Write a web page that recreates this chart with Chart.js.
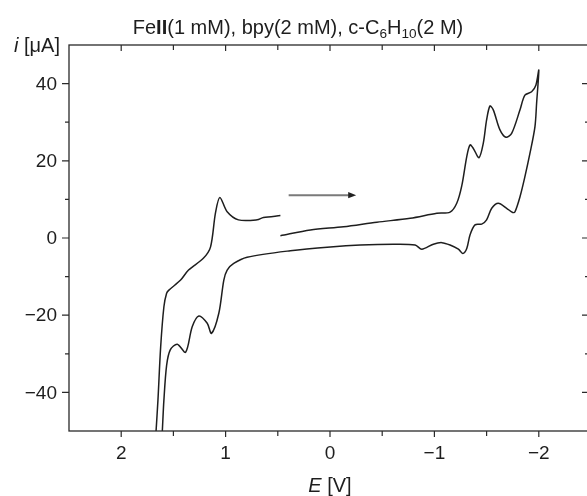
<!DOCTYPE html>
<html lang="en">
<head>
    <meta charset="UTF-8">
    <title>Cyclic voltammogram</title>
    <script src="https://cdn.jsdelivr.net/npm/chart.js"></script>
    <style>
        html, body {
            margin: 0;
            padding: 0;
            background: #ffffff;
            overflow: hidden;
        }

        #wrap {
            width: 600px;
            height: 496px;
        }
    </style>
</head>
<body>

    <div id="wrap">
        <canvas id="cvChart" width="600" height="496"></canvas>
    </div>

    <script>
        // first branch: start at 0.475 V, sweep to -2 V, back up past +1.6 V
        const sweepOutE = [0.475, 0.188, -0.13, -0.449, -0.768, -1.023, -1.15, -1.214, -1.262, -1.31,
            -1.341, -1.373, -1.427, -1.468, -1.5, -1.532, -1.564, -1.628, -1.685, -1.74,
            -1.82, -1.867, -1.931, -1.972, -2.0,
            -1.979, -1.963, -1.915, -1.867, -1.82, -1.772, -1.75, -1.692, -1.612, -1.549,
            -1.5, -1.453, -1.389, -1.341, -1.31, -1.272, -1.23, -1.15, -1.071, -0.99,
            -0.879, -0.815, -0.608, -0.29, -0.003, 0.38, 0.794, 0.922, 0.985, 1.017,
            1.065, 1.135, 1.176, 1.256, 1.32, 1.383, 1.463, 1.53, 1.565, 1.591, 1.606];
        const sweepOutI = [0.6, 2.1, 2.9, 4.1, 5.1, 6.4, 6.7, 9.0, 13.5, 21.1,
            24.1, 23.2, 20.8, 24.5, 30.6, 34.2, 33.2, 28.0, 26.1, 27.1,
            33.2, 37.0, 37.9, 39.6, 43.5,
            34.9, 28.8, 21.9, 15.9, 10.7, 6.8, 6.6, 7.7, 9.0, 7.7,
            4.7, 3.6, 3.4, 0.8, -2.7, -4.0, -2.9, -1.8, -1.2, -1.6,
            -2.9, -1.8, -1.6, -1.8, -2.3, -3.3, -5.0, -6.6, -8.3, -10.9,
            -19.5, -24.7, -22.1, -20.2, -23.0, -29.6, -27.5, -29.0, -33.0, -42.0, -50];

        // second branch: comes back from below the axis and ends near 0.5 V
        const sweepBackE = [1.666, 1.648, 1.622, 1.591, 1.565, 1.543, 1.431, 1.355, 1.211, 1.144,
            1.097, 1.055, 0.985, 0.877, 0.698, 0.638, 0.475];
        const sweepBackI = [-50, -42.0, -28.2, -17.8, -14.3, -13.5, -10.9, -8.3, -5.2, -2.3,
            6.5, 10.5, 6.8, 4.7, 4.7, 5.3, 5.8];

        // scan direction arrow (from, to) in V, at height in uA
        const arrowE = [0.396, -0.251];
        const arrowI = [11.1, 11.1];

        const xMajor = [2, 1, 0, -1, -2];
        const xMinor = [1.5, 0.5, -0.5, -1.5];
        const yMajor = [40, 20, 0, -20, -40];
        const yMinor = [30, 10, -10, -30];

        const FONT = '"Liberation Sans", Arial, sans-serif';
        const INK = '#1e1e1e';

        function toPoints(es, is) {
            return es.map((e, k) => ({ x: e, y: is[k] }));
        }

        function fmt(v) {
            return String(v).replace('-', '\u2212');
        }

        // draws a row of text pieces: {t, style, sub}
        function drawRuns(ctx, runs, x, y, size, align) {
            let total = 0;
            runs.forEach(r => {
                const s = r.sub ? size * 0.68 : size;
                ctx.font = (r.style || '') + ' ' + s + 'px ' + FONT;
                r.w = ctx.measureText(r.t).width;
                total += r.w;
            });
            let cx = align === 'center' ? x - total / 2 : (align === 'right' ? x - total : x);
            runs.forEach(r => {
                const s = r.sub ? size * 0.68 : size;
                ctx.font = (r.style || '') + ' ' + s + 'px ' + FONT;
                ctx.fillText(r.t, cx, r.sub ? y + size * 0.22 : y);
                cx += r.w;
            });
        }

        const framePlugin = {
            id: 'frame',
            afterDraw(chart) {
                const { ctx, chartArea: a, scales } = chart;
                const xs = scales.x, ys = scales.y;
                ctx.save();
                ctx.strokeStyle = '#2a2a2a';
                ctx.lineWidth = 1.3;
                ctx.strokeRect(a.left, a.top, a.right - a.left, a.bottom - a.top);

                ctx.lineWidth = 1.2;
                ctx.beginPath();
                const xt = (v, len) => {
                    const p = xs.getPixelForValue(v);
                    ctx.moveTo(p, a.bottom); ctx.lineTo(p, a.bottom + len);
                    ctx.moveTo(p, a.top); ctx.lineTo(p, a.top + len);
                };
                const yt = (v, len) => {
                    const p = ys.getPixelForValue(v);
                    ctx.moveTo(a.left, p); ctx.lineTo(a.left - len, p);
                    ctx.moveTo(a.right, p); ctx.lineTo(a.right - len - 2, p);
                };
                xMajor.forEach(v => xt(v, 6));
                xMinor.forEach(v => xt(v, 5));
                yMajor.forEach(v => yt(v, 7));
                yMinor.forEach(v => yt(v, 4));
                ctx.stroke();

                // tick labels
                ctx.fillStyle = INK;
                ctx.font = '19px ' + FONT;
                ctx.textAlign = 'center';
                ctx.textBaseline = 'top';
                xMajor.forEach(v => ctx.fillText(fmt(v), xs.getPixelForValue(v), a.bottom + 13));
                ctx.textAlign = 'right';
                ctx.textBaseline = 'middle';
                yMajor.forEach(v => ctx.fillText(fmt(v), a.left - 12, ys.getPixelForValue(v) + 1));

                // scan direction arrow
                const x0 = xs.getPixelForValue(arrowE[0]);
                const x1 = xs.getPixelForValue(arrowE[1]);
                const y0 = ys.getPixelForValue(arrowI[0]);
                ctx.strokeStyle = '#7a7a7a';
                ctx.lineWidth = 2;
                ctx.beginPath();
                ctx.moveTo(x0, y0); ctx.lineTo(x1 - 6, y0);
                ctx.stroke();
                ctx.fillStyle = '#222';
                ctx.beginPath();
                ctx.moveTo(x1, y0);
                ctx.lineTo(x1 - 8, y0 - 3.2);
                ctx.lineTo(x1 - 8, y0 + 3.2);
                ctx.closePath();
                ctx.fill();

                // titles
                ctx.fillStyle = INK;
                ctx.textAlign = 'left';
                ctx.textBaseline = 'alphabetic';
                drawRuns(ctx, [
                    { t: 'Fe' }, { t: 'II', style: 'bold' },
                    { t: '(1 mM), bpy(2 mM), c-C' }, { t: '6', sub: true },
                    { t: 'H' }, { t: '10', sub: true }, { t: '(2 M)' }
                ], 298, 34, 20, 'center');
                drawRuns(ctx, [{ t: 'i', style: 'italic' }, { t: ' [\u03bcA]' }], 60, 52, 20, 'right');
                drawRuns(ctx, [{ t: 'E', style: 'italic' }, { t: ' [V]' }], 330, 492, 20, 'center');
                ctx.restore();
            }
        };

        const lineStyle = {
            showLine: true,
            borderColor: INK,
            borderWidth: 1.5,
            pointRadius: 0,
            tension: 0.3,
            fill: false
        };

        new Chart(document.getElementById('cvChart'), {
            type: 'scatter',
            data: {
                datasets: [
                    Object.assign({ label: 'sweep', data: toPoints(sweepOutE, sweepOutI) }, lineStyle),
                    Object.assign({ label: 'return', data: toPoints(sweepBackE, sweepBackI) }, lineStyle)
                ]
            },
            options: {
                responsive: false,
                animation: false,
                events: [],
                layout: { padding: { top: 45, right: 9, left: 0, bottom: 0 } },
                plugins: {
                    legend: { display: false },
                    tooltip: { enabled: false }
                },
                scales: {
                    x: {
                        type: 'linear',
                        reverse: true,
                        min: -2.5,
                        max: 2.5,
                        grid: { display: false, drawTicks: false },
                        border: { display: false },
                        afterFit: s => { s.height = 65; },
                        ticks: { display: false }
                    },
                    y: {
                        min: -50,
                        max: 50,
                        grid: { display: false, drawTicks: false },
                        border: { display: false },
                        afterFit: s => { s.width = 69; },
                        ticks: { display: false }
                    }
                }
            },
            plugins: [framePlugin]
        });
    </script>

</body>
</html>
